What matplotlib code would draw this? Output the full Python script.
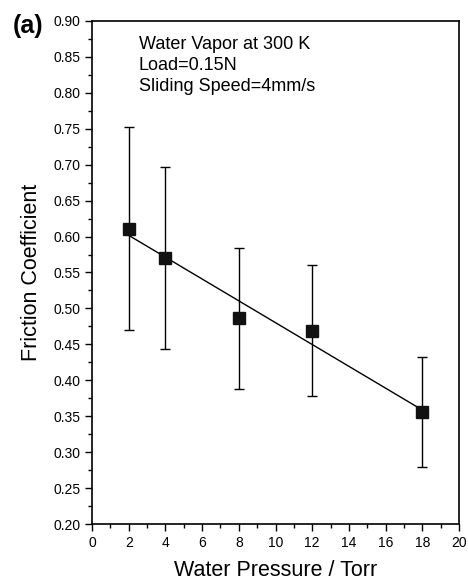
import numpy as np
import matplotlib.pyplot as plt

plt.rcParams['font.family'] = ['Liberation Sans', 'DejaVu Sans']

# data
pressure = np.array([2, 4, 8, 12, 18])
friction = np.array([0.611, 0.570, 0.486, 0.469, 0.356])
err_hi = np.array([0.753, 0.697, 0.584, 0.561, 0.433])
err_lo = np.array([0.470, 0.444, 0.388, 0.378, 0.280])

yerr = np.vstack([friction - err_lo, err_hi - friction])

# linear fit
coef = np.polyfit(pressure, friction, 1)
fit_x = np.array([pressure[0], pressure[-1]])
fit_y = np.polyval(coef, fit_x)

fig = plt.figure(figsize=(4.68, 5.83), dpi=100)
ax = fig.add_axes([0.1966, 0.1012, 0.7842, 0.8628])

ax.plot(fit_x, fit_y, color='black', lw=1.0, zorder=2)
ax.errorbar(pressure, friction, yerr=yerr, fmt='s', color='#111111', ms=8,
            ecolor='black', elinewidth=1.0, capsize=3.5, capthick=1.0, zorder=3)

ax.set_xlim(0, 20)
ax.set_ylim(0.20, 0.90)
ax.set_xticks(np.arange(0, 21, 2))
ax.set_xticks(np.arange(1, 20, 2), minor=True)
ax.set_yticks(np.arange(0.20, 0.901, 0.05))
ax.set_yticks(np.arange(0.225, 0.90, 0.05), minor=True)
ax.set_yticklabels([f'{v:.2f}' for v in np.arange(0.20, 0.901, 0.05)])
ax.tick_params(which='major', direction='out', length=5, width=1, labelsize=10)
ax.tick_params(which='minor', direction='out', length=3, width=1)
for s in ax.spines.values():
    s.set_linewidth(1.2)

ax.set_xlabel('Water Pressure / Torr', fontsize=15.5, labelpad=7)
ax.set_ylabel('Friction Coefficient', fontsize=15.5, labelpad=8)

ax.text(0.128, 0.97, 'Water Vapor at 300 K\nLoad=0.15N\nSliding Speed=4mm/s',
        transform=ax.transAxes, va='top', ha='left', fontsize=13,
        linespacing=1.3)
fig.text(0.027, 0.943, '(a)', fontsize=18, fontweight='bold', va='baseline', ha='left')

fig.savefig('out.png', dpi=100)
